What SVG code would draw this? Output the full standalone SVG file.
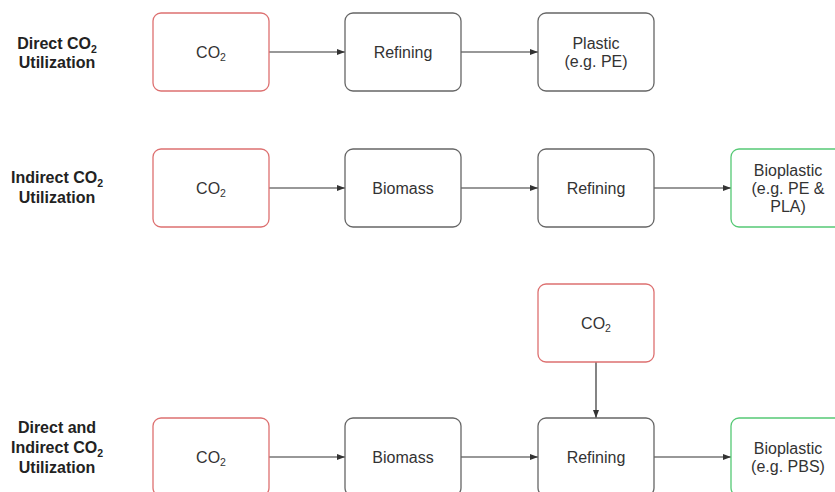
<svg xmlns="http://www.w3.org/2000/svg" width="835" height="492" viewBox="0 0 835 492">
<style>
.box{fill:#fff;stroke:#666;stroke-width:1.3}
.red{stroke:#dd7070}
.green{stroke:#55c975}
.t{font-family:"Liberation Sans",Arial,sans-serif;font-size:16px;fill:#333;text-anchor:middle}
.lbl{font-family:"Liberation Sans",Arial,sans-serif;font-size:16px;font-weight:bold;fill:#222;text-anchor:middle}
.sub{font-size:10.5px}
.c{stroke:#333;stroke-width:1.2;fill:none;marker-end:url(#ah)}
</style>
<defs>
<marker id="ah" viewBox="0 0 8 8" refX="8" refY="4" markerWidth="8" markerHeight="8" markerUnits="userSpaceOnUse" orient="auto">
<path d="M0,1 L8,4 L0,7 z" fill="#333"/>
</marker>
</defs>
<rect width="835" height="492" fill="#fff"/>
<g id="labels">
<text class="lbl" x="57" y="49">Direct CO<tspan class="sub" dy="4">2</tspan></text>
<text class="lbl" x="57" y="68">Utilization</text>
<text class="lbl" x="57" y="183">Indirect CO<tspan class="sub" dy="4">2</tspan></text>
<text class="lbl" x="57" y="203">Utilization</text>
<text class="lbl" x="57" y="433">Direct and</text>
<text class="lbl" x="57" y="453">Indirect CO<tspan class="sub" dy="4">2</tspan></text>
<text class="lbl" x="57" y="473">Utilization</text>
</g>
<g id="connectors">
<line class="c" x1="269" y1="52" x2="345" y2="52"/>
<line class="c" x1="461" y1="52" x2="538" y2="52"/>
<line class="c" x1="269" y1="188" x2="345" y2="188"/>
<line class="c" x1="461" y1="188" x2="538" y2="188"/>
<line class="c" x1="654" y1="188" x2="731" y2="188"/>
<line class="c" x1="596" y1="362" x2="596" y2="418"/>
<line class="c" x1="269" y1="457" x2="345" y2="457"/>
<line class="c" x1="461" y1="457" x2="538" y2="457"/>
<line class="c" x1="654" y1="457" x2="731" y2="457"/>
</g>
<g id="n1-co2"><rect class="box red" x="153" y="13" width="116" height="78" rx="8"/><text class="t" x="211" y="58">CO<tspan class="sub" dy="3">2</tspan></text></g>
<g id="n1-refining"><rect class="box" x="345" y="13" width="116" height="78" rx="8"/><text class="t" x="403" y="58">Refining</text></g>
<g id="n1-plastic"><rect class="box" x="538" y="13" width="116" height="78" rx="8"/><text class="t" x="596" y="49">Plastic</text><text class="t" x="596" y="67">(e.g. PE)</text></g>
<g id="n2-co2"><rect class="box red" x="153" y="149" width="116" height="78" rx="8"/><text class="t" x="211" y="194">CO<tspan class="sub" dy="3">2</tspan></text></g>
<g id="n2-biomass"><rect class="box" x="345" y="149" width="116" height="78" rx="8"/><text class="t" x="403" y="194">Biomass</text></g>
<g id="n2-refining"><rect class="box" x="538" y="149" width="116" height="78" rx="8"/><text class="t" x="596" y="194">Refining</text></g>
<g id="n2-bioplastic"><rect class="box green" x="731" y="149" width="116" height="78" rx="8"/><text class="t" x="788" y="176">Bioplastic</text><text class="t" x="788" y="194">(e.g. PE &amp;</text><text class="t" x="788" y="212">PLA)</text></g>
<g id="n3-co2top"><rect class="box red" x="538" y="284" width="116" height="78" rx="8"/><text class="t" x="596" y="329">CO<tspan class="sub" dy="3">2</tspan></text></g>
<g id="n3-co2"><rect class="box red" x="153" y="418" width="116" height="78" rx="8"/><text class="t" x="211" y="463">CO<tspan class="sub" dy="3">2</tspan></text></g>
<g id="n3-biomass"><rect class="box" x="345" y="418" width="116" height="78" rx="8"/><text class="t" x="403" y="463">Biomass</text></g>
<g id="n3-refining"><rect class="box" x="538" y="418" width="116" height="78" rx="8"/><text class="t" x="596" y="463">Refining</text></g>
<g id="n3-bioplastic"><rect class="box green" x="731" y="418" width="116" height="78" rx="8"/><text class="t" x="788" y="454">Bioplastic</text><text class="t" x="788" y="472">(e.g. PBS)</text></g>
</svg>
